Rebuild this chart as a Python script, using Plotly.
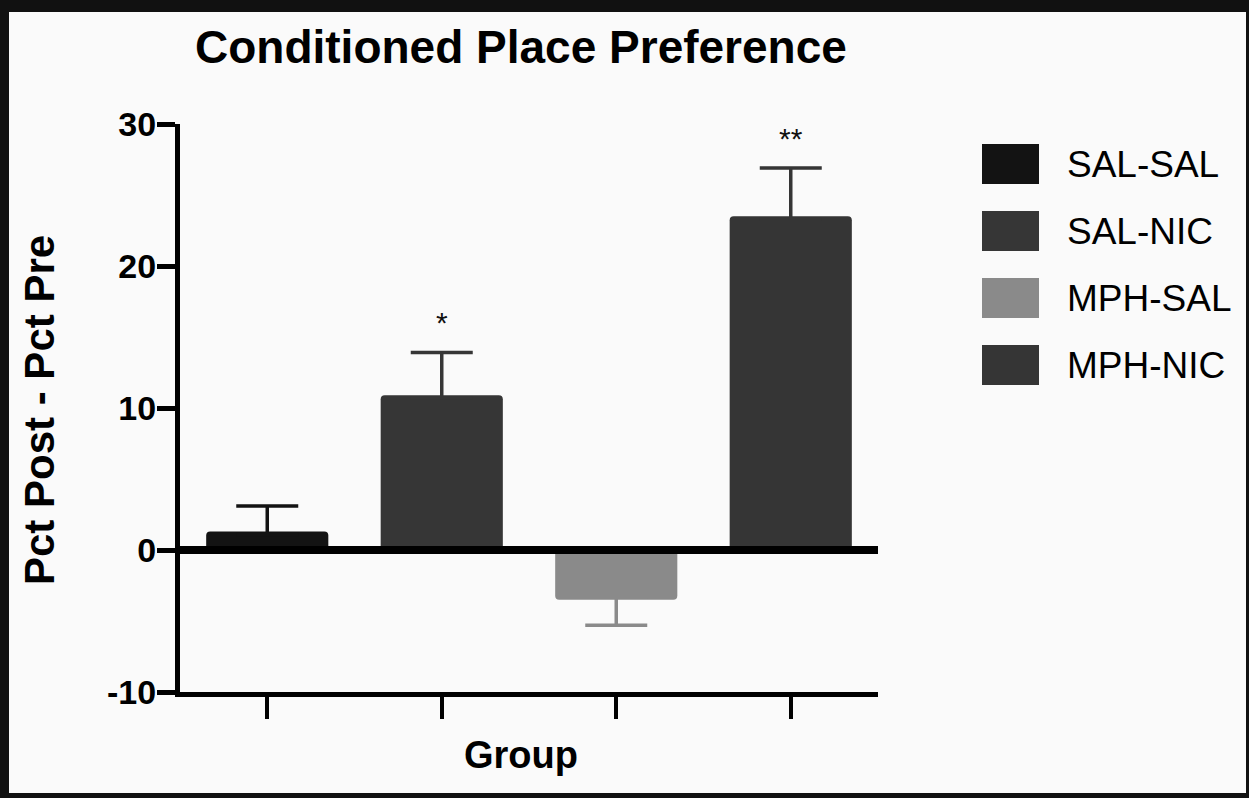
import plotly.graph_objects as go

# ---- data ----
GROUPS = ["SAL-SAL", "SAL-NIC", "MPH-SAL", "MPH-NIC"]
MEANS = [1.3, 10.9, -3.5, 23.5]
SEM = [1.8, 3.0, 1.8, 3.4]
SIG = ["", "*", "", "**"]
COLORS = ["#131313", "#363636", "#8a8a8a", "#353535"]
Y_TICKS = [-10, 0, 10, 20, 30]
Y_TICK_LABELS = ["-10", "0", "10", "20", "30"]
TITLE = "Conditioned Place Preference"
Y_TITLE = "Pct Post - Pct Pre"
X_TITLE = "Group"

# ---- layout geometry / style ----
W, H = 1249, 798
L, R, T, B = 180, 371, 124, 106
PW, PH = W - L - R, H - T - B
FONT = "Liberation Sans, Arial, Helvetica, sans-serif"
BG = "#fafafa"
EPS = 0.2  # tuck the error-bar foot inside the bar end (data units)


def px_x(px):
    return (px - L) / PW


def px_y(py):
    return (H - B - py) / PH


fig = go.Figure()
for g, m, s, c in zip(GROUPS, MEANS, SEM, COLORS):
    fig.add_trace(go.Bar(
        x=[g], y=[m], width=0.7, name=g, showlegend=False, hoverinfo="skip",
        marker=dict(color=c, line=dict(width=0), cornerradius=4),
    ))
for g, m, s, c in zip(GROUPS, MEANS, SEM, COLORS):
    sign = 1 if m >= 0 else -1
    base = m - sign * EPS
    up = s + EPS if sign > 0 else 0
    down = 0 if sign > 0 else s + EPS
    fig.add_trace(go.Scatter(
        x=[g], y=[base], mode="markers", showlegend=False, hoverinfo="skip",
        marker=dict(size=1, opacity=0),
        error_y=dict(type="data", symmetric=False, array=[up], arrayminus=[down],
                     color=c, thickness=3.5, width=31),
    ))

annotations = []
# significance stars
for g, m, s, sig in zip(GROUPS, MEANS, SEM, SIG):
    if sig:
        annotations.append(dict(x=g, y=m + s, xref="x", yref="y", text=sig,
                                showarrow=False, yanchor="middle", yshift=30,
                                font=dict(family=FONT, size=30, color="#111")))

# titles
annotations.append(dict(x=px_x(521), y=px_y(47), xref="paper", yref="paper", text=TITLE,
                        showarrow=False, xanchor="center", yanchor="middle",
                        font=dict(family=FONT, size=46, color="#000", weight="bold")))
annotations.append(dict(x=px_x(39), y=px_y(410), xref="paper", yref="paper", text=Y_TITLE,
                        showarrow=False, xanchor="center", yanchor="middle", textangle=-90,
                        font=dict(family=FONT, size=42, color="#000", weight="bold")))
annotations.append(dict(x=px_x(521), y=px_y(755), xref="paper", yref="paper", text=X_TITLE,
                        showarrow=False, xanchor="center", yanchor="middle",
                        font=dict(family=FONT, size=38, color="#000", weight="bold")))

shapes = []
# custom legend
for i, (g, c) in enumerate(zip(GROUPS, COLORS)):
    top = 144 + i * 67
    shapes.append(dict(type="rect", xref="paper", yref="paper",
                       x0=px_x(982), x1=px_x(1039), y0=px_y(top + 40), y1=px_y(top),
                       fillcolor=c, line=dict(width=0)))
    annotations.append(dict(x=px_x(1065), y=px_y(top + 20), xref="paper", yref="paper",
                            text=g, showarrow=False, xanchor="left", yanchor="middle",
                            font=dict(family=FONT, size=37, color="#000")))

# zero line above bars
shapes.append(dict(type="line", xref="paper", yref="y", x0=0, x1=1, y0=0, y1=0,
                   line=dict(color="#000", width=8), layer="above"))

# outer frame
frame = [(0, 0, W, 12), (0, 0, 9, H), (W - 3, 0, W, H), (0, H - 5, W, H)]
for x0, y0, x1, y1 in frame:
    shapes.append(dict(type="rect", xref="paper", yref="paper",
                       x0=px_x(x0), x1=px_x(x1), y0=px_y(y1), y1=px_y(y0),
                       fillcolor="#111", line=dict(width=0), layer="above"))

fig.update_layout(
    width=W, height=H,
    margin=dict(l=L, r=R, t=T, b=B, autoexpand=False),
    paper_bgcolor=BG, plot_bgcolor=BG,
    barmode="overlay",
    showlegend=False,
    hovermode=False,
    annotations=annotations,
    shapes=shapes,
    xaxis=dict(type="category", categoryorder="array", categoryarray=GROUPS,
               range=[-0.5, 3.5], showgrid=False, zeroline=False,
               showline=True, linewidth=5, linecolor="#000",
               ticks="outside", ticklen=22, tickwidth=4, tickcolor="#000",
               showticklabels=False),
    yaxis=dict(range=[-10, 30], tickvals=Y_TICKS, ticktext=Y_TICK_LABELS,
               showgrid=False, zeroline=False,
               showline=True, linewidth=5, linecolor="#000",
               ticks="outside", ticklen=18, tickwidth=5, tickcolor="#000",
               ticklabelstandoff=-6,
               tickfont=dict(family=FONT, size=34, color="#000", weight="bold")),
)

fig.write_html(
    "out.html",
    config={"displayModeBar": False, "staticPlot": True},
    post_script="document.body.style.margin='0';document.body.style.overflow='hidden';",
)
